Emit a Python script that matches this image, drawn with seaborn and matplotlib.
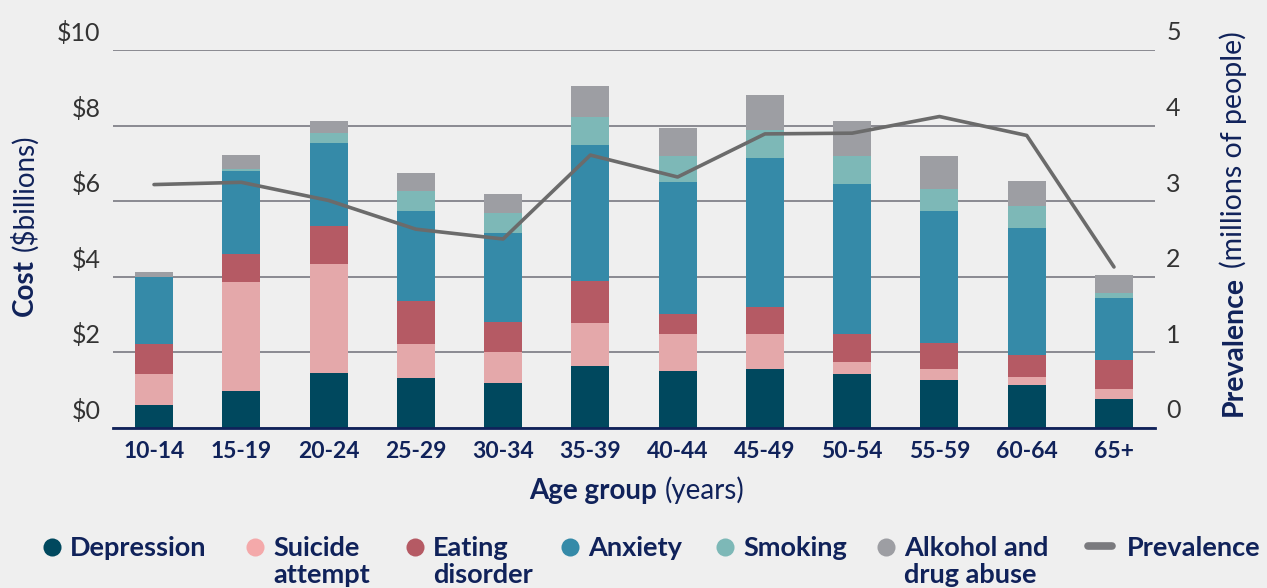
import numpy as np
import pandas as pd
import seaborn as sns
import matplotlib.pyplot as plt
import matplotlib.transforms as mtransforms
from matplotlib.lines import Line2D

# ---- data -------------------------------------------------------------
age_groups = ["10-14", "15-19", "20-24", "25-29", "30-34", "35-39",
              "40-44", "45-49", "50-54", "55-59", "60-64", "65+"]

# cost components ($ billions)
depression      = [0.60, 0.99, 1.45, 1.32, 1.19, 1.63, 1.50, 1.55, 1.44, 1.28, 1.13, 0.78]
suicide_attempt = [0.82, 2.86, 2.90, 0.90, 0.82, 1.14, 0.98, 0.95, 0.30, 0.27, 0.21, 0.24]
eating_disorder = [0.80, 0.76, 1.00, 1.13, 0.79, 1.11, 0.53, 0.69, 0.74, 0.69, 0.58, 0.77]
anxiety         = [1.77, 2.18, 2.20, 2.40, 2.37, 3.60, 3.49, 3.95, 3.98, 3.50, 3.36, 1.64]
smoking         = [0.01, 0.05, 0.26, 0.53, 0.53, 0.74, 0.69, 0.74, 0.73, 0.58, 0.59, 0.13]
alcohol_drugs   = [0.12, 0.38, 0.32, 0.47, 0.50, 0.83, 0.74, 0.93, 0.93, 0.87, 0.66, 0.48]

# prevalence (millions of people)
prevalence = [3.22, 3.25, 3.01, 2.63, 2.50, 3.61, 3.32, 3.89, 3.90, 4.12, 3.87, 2.13]

series_names = ["Depression", "Suicide\nattempt", "Eating\ndisorder",
                "Anxiety", "Smoking", "Alkohol and\ndrug abuse"]
series_values = [depression, suicide_attempt, eating_disorder,
                 anxiety, smoking, alcohol_drugs]
series_colors = ["#00485E", "#E4A8AA", "#B55A64", "#358AA8", "#7DB8B7", "#9D9EA3"]
legend_marker_colors = ["#00485E", "#F4A9AA", "#B55A64", "#358AA8", "#7DB8B7", "#9D9EA3"]

y_ticks_cost = [0, 2, 4, 6, 8, 10]
y_ticklabels_cost = ["$0", "$2", "$4", "$6", "$8", "$10"]
y_ticks_prev = [0, 1, 2, 3, 4, 5]

# ---- style ------------------------------------------------------------
BG = "#EFEFEF"
NAVY = "#10225A"
GRID = "#6E6E78"
LINE = "#6B6B6B"
FONT = ["Lato", "DejaVu Sans"]

sns.set_theme(style="white")
plt.rcParams["font.family"] = FONT
plt.rcParams["figure.facecolor"] = BG
plt.rcParams["axes.facecolor"] = BG

W, H, DPI = 1267, 588, 100
fig = plt.figure(figsize=(W / DPI, H / DPI), dpi=DPI)
ax = fig.add_axes([113 / W, 1 - 428 / H, (1155 - 113) / W, (428 - 50) / H])

df = pd.DataFrame({"age": age_groups})
cum = np.cumsum(np.array(series_values), axis=0)

# stacked bars: draw running totals from the top layer down
for i in range(len(series_values) - 1, -1, -1):
    df["total"] = cum[i]
    sns.barplot(data=df, x="age", y="total", color=series_colors[i],
                width=0.435, saturation=1, edgecolor="none", linewidth=0,
                ax=ax, zorder=2)

ax.set_xlim(-0.47, len(age_groups) - 0.53)
ax.set_ylim(0, 10)
ax.set_yticks(y_ticks_cost)
ax.set_yticklabels(y_ticklabels_cost)
ax.grid(axis="y", color=GRID, linewidth=1.1, zorder=0)
ax.set_axisbelow(True)
for s in ["top", "left", "right"]:
    ax.spines[s].set_visible(False)
ax.spines["bottom"].set_color(NAVY)
ax.spines["bottom"].set_linewidth(2.0)
ax.spines["bottom"].set_zorder(5)
ax.set_xlabel("")
ax.set_ylabel("")
ax.tick_params(axis="x", length=0, pad=9, labelsize=16.5, labelcolor=NAVY)
for lab in ax.get_xticklabels():
    lab.set_fontweight("bold")
ax.tick_params(axis="y", length=0, pad=9, labelsize=18, labelcolor="#333333")

# prevalence line on secondary axis
ax2 = ax.twinx()
sns.lineplot(x=np.arange(len(age_groups)), y=prevalence, color=LINE,
             linewidth=2.6, ax=ax2, zorder=4)
ax2.set_ylim(0, 5)
ax2.set_yticks(y_ticks_prev)
ax2.set_yticklabels([str(v) for v in y_ticks_prev])
ax2.tick_params(axis="y", length=0, pad=8, labelsize=18, labelcolor="#333333")
for s in ax2.spines.values():
    s.set_visible(False)
ax2.grid(False)
ax2.set_ylabel("")

# lift value labels so they sit above their grid lines
lift = mtransforms.ScaledTranslation(0, 19 / DPI, fig.dpi_scale_trans)
for lab in ax.get_yticklabels() + ax2.get_yticklabels():
    lab.set_transform(lab.get_transform() + lift)

# ---- mixed-weight axis titles ----------------------------------------
fig.canvas.draw()
renderer = fig.canvas.get_renderer()
px = mtransforms.IdentityTransform()


def mixed_title(xc, yc, parts, size, rotation=0):
    texts = []
    for s, w in parts:
        t = fig.text(0, 0, s, fontsize=size, fontweight=w, color=NAVY,
                     rotation=rotation, rotation_mode="anchor",
                     ha="left", va="baseline", transform=px)
        texts.append(t)
    gap = size * DPI / 72 * 0.28
    lens = []
    for t in texts:
        bb = t.get_window_extent(renderer)
        lens.append(bb.width if rotation == 0 else bb.height)
    total = sum(lens) + gap * (len(texts) - 1)
    pos = -total / 2
    for t, L in zip(texts, lens):
        if rotation == 0:
            t.set_position((xc + pos, yc))
        else:
            t.set_position((xc, yc + pos))
        pos += L + gap


mixed_title(637, H - 499, [("Age group", "bold"), ("(years)", "normal")], 20)
mixed_title(33, H - 225, [("Cost", "bold"), ("($billions)", "normal")], 20, rotation=90)
mixed_title(1242, H - 224, [("Prevalence", "bold"), ("(millions of people)", "normal")], 20.5, rotation=90)

# ---- legend -----------------------------------------------------------
legend_items = [(52, 70), (255, 273), (415, 433), (570, 588), (725, 743), (886, 904)]
marker_y = H - 547
baseline_y = H - 556
line_step = 27
for (mx, tx), name, col in zip(legend_items, series_names, legend_marker_colors):
    fig.add_artist(Line2D([mx], [marker_y], marker="o", markersize=13,
                          markerfacecolor=col, markeredgecolor="none",
                          linestyle="none", transform=px))
    for k, part in enumerate(name.split("\n")):
        fig.text(tx, baseline_y - k * line_step, part, fontsize=19.5,
                 fontweight="bold", color=NAVY, ha="left", va="baseline",
                 transform=px)
fig.add_artist(Line2D([1088, 1112], [marker_y + 1, marker_y + 1], color="#7A7A7E",
                      linewidth=5.5, solid_capstyle="round", transform=px))
fig.text(1127, baseline_y, "Prevalence", fontsize=19.5, fontweight="bold",
         color=NAVY, ha="left", va="baseline", transform=px)

fig.savefig("out.png", dpi=DPI, facecolor=BG)
